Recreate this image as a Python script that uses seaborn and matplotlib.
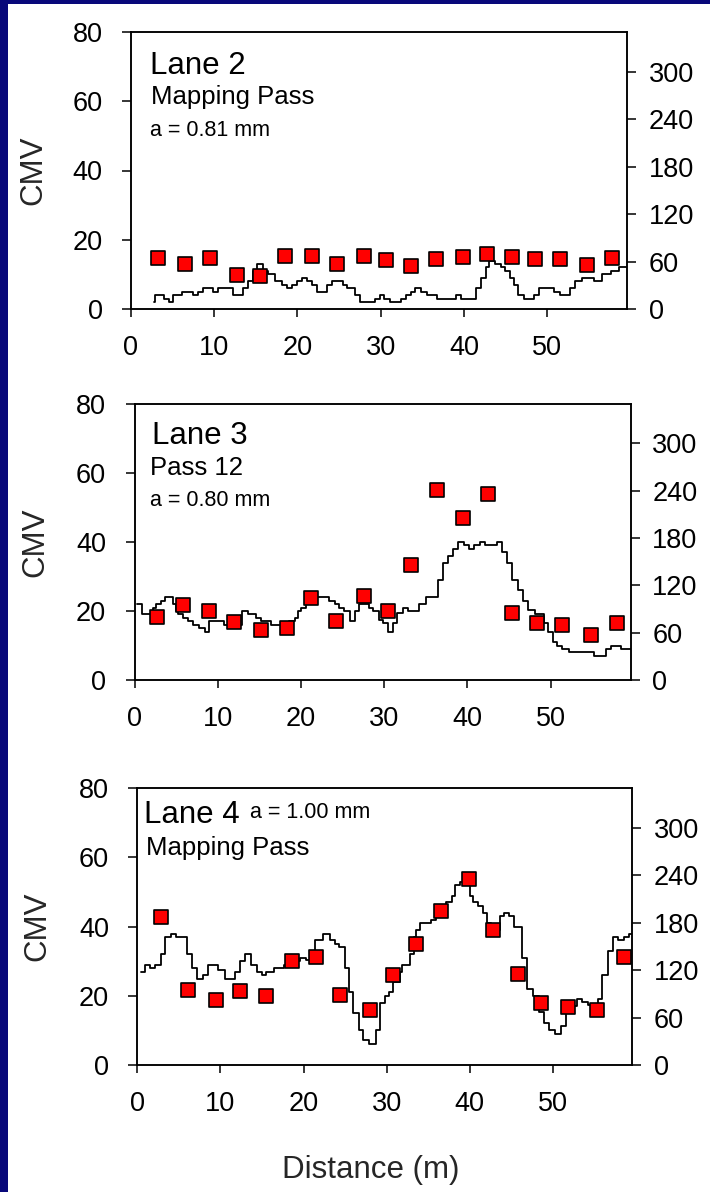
import matplotlib
matplotlib.use("Agg")
import matplotlib.pyplot as plt
import numpy as np
import pandas as pd
import seaborn as sns
from matplotlib.patches import Rectangle

# ---------------- data ----------------
# Roller CMV (left axis), step profile: distance where each step starts and its value
lane2_dist = [2.8, 2.9, 4.0, 4.6, 5.1, 6.1, 7.5, 8.0, 8.6, 9.8, 10.4, 12.3, 13.5, 14.1,
              14.6, 15.1, 15.9, 16.5, 17.3, 18.1, 18.7, 19.3, 19.9, 20.5, 21.1, 21.7,
              22.3, 23.5, 24.1, 25.5, 25.9, 26.9, 27.5, 29.3, 29.9, 30.4, 31.1, 32.5,
              33.0, 33.6, 34.1, 34.9, 35.6, 36.8, 39.0, 39.7, 41.4, 42.0, 42.6, 43.0,
              43.7, 44.4, 45.0, 45.6, 46.0, 46.5, 47.2, 48.4, 49.0, 50.8, 51.5, 52.8,
              53.4, 54.2, 55.6, 56.6, 57.7, 58.6, 59.6]
lane2_cmv = [2, 4, 3, 2, 4, 5, 4, 5, 6, 5, 6, 4, 6, 8,
             11, 13, 11, 10, 8, 7, 6, 7, 8, 9, 8, 7,
             5, 7, 8, 7, 6, 4, 2, 3, 4, 3, 2, 3,
             4, 5, 6, 5, 4, 3, 4, 3, 6, 9, 12, 14,
             13, 12, 11, 9, 7, 4, 3, 4, 6, 5, 4, 6,
             8, 9, 8, 10, 11, 12, 12]

lane3_dist = [0.25, 0.85, 2.2, 2.6, 3.2, 3.7, 4.6, 5.0, 5.2, 5.8, 6.4, 7.0, 7.7, 8.4,
              9.0, 10.8, 12.9, 13.6, 14.6, 15.2, 16.4, 18.6, 19.3, 19.6, 20.0, 20.6,
              21.2, 23.3, 24.1, 24.6, 25.2, 25.9, 26.5, 27.0, 28.2, 28.7, 29.4, 29.8,
              30.4, 31.0, 31.5, 32.3, 32.8, 34.2, 35.0, 36.4, 37.1, 37.7, 38.3, 38.9,
              39.6, 40.2, 40.8, 41.5, 42.1, 43.6, 44.2, 44.8, 45.4, 46.1, 46.7, 47.3,
              48.1, 49.2, 49.7, 50.3, 50.8, 51.4, 52.2, 55.2, 56.6, 57.2, 58.4, 59.6]
lane3_cmv = [22, 19, 21, 22, 23, 24, 22, 20, 19, 18, 17, 16, 15, 14,
             17, 16, 20, 19, 18, 17, 16, 17, 18, 20, 21, 22,
             24, 23, 22, 21, 20, 17, 20, 22, 21, 20, 17.5, 16.5,
             14, 16.5, 19.3, 21, 20, 22, 24, 29, 34, 36, 38, 40,
             39, 38, 39, 40, 39, 40, 37, 34, 29, 26, 23, 20.3,
             19.2, 16.6, 14, 11, 10, 9, 8, 7, 9, 10, 9, 9]

lane4_dist = [0.4, 0.9, 1.5, 2.1, 2.8, 3.3, 4.0, 4.7, 6.0, 6.6, 7.2, 7.85, 8.5, 9.7,
              10.5, 11.8, 12.3, 12.9, 13.7, 14.35, 14.95, 15.5, 16.4, 17.6, 18.6,
              19.6, 20.3, 20.8, 21.4, 22.4, 23.2, 23.8, 24.3, 25.0, 25.5, 25.9, 26.7,
              27.2, 27.9, 28.7, 29.2, 29.8, 30.3, 30.8, 31.6, 31.9, 32.8, 33.3, 33.6,
              34.0, 35.4, 36.0, 36.6, 37.2, 37.9, 38.3, 38.9, 39.4, 40.0, 40.4, 41.0,
              41.6, 42.1, 42.6, 43.6, 44.2, 44.7, 45.4, 46.3, 46.9, 47.6, 48.4, 48.9,
              49.6, 50.3, 51.0, 51.6, 52.9, 53.5, 54.3, 55.4, 55.9, 56.7, 57.3, 57.9,
              58.6, 59.2, 59.6]
lane4_cmv = [27, 29, 28, 29, 32, 37, 38, 37, 32, 28, 25, 26, 29, 27.5,
             25, 27, 30, 32, 29, 27, 26, 27, 28, 29, 30,
             31, 30.5, 33, 36, 38, 36, 35, 34, 28, 21, 15, 10,
             7.2, 6, 10, 18, 20, 21, 24, 27, 29, 32, 37, 39,
             41, 42, 44, 46, 47, 49, 52, 53, 55, 49, 47, 46,
             44, 41, 39, 43, 44, 43, 40, 31, 22, 20, 15.4, 12,
             10, 9, 11.3, 17, 19, 18.3, 17.4, 19, 26, 33, 37, 36,
             37, 38, 38]

# Spot test values (right axis)
lane2_pt_dist = [3.3, 6.5, 9.5, 12.7, 15.5, 18.5, 21.7, 24.7, 28.0, 30.7, 33.6, 36.7,
                 39.9, 42.8, 45.8, 48.6, 51.6, 54.8, 57.8]
lane2_pt_val = [64, 57, 64, 43, 42, 67, 67, 57, 67, 62, 54, 63, 66, 69, 66, 63, 63, 56, 65]

lane3_pt_dist = [2.7, 5.85, 9.0, 12.0, 15.2, 18.3, 21.2, 24.2, 27.6, 30.5, 33.2, 36.3,
                 39.5, 42.5, 45.4, 48.3, 51.4, 54.9, 58.0]
lane3_pt_val = [80, 95, 87, 73, 63, 66, 104, 75, 107, 87, 146, 241, 206, 236, 85, 72, 70, 57, 72]

lane4_pt_dist = [2.9, 6.1, 9.5, 12.4, 15.5, 18.6, 21.5, 24.4, 28.0, 30.8, 33.5, 36.6,
                 39.9, 42.8, 45.8, 48.6, 51.8, 55.3, 58.6]
lane4_pt_val = [187, 95, 82, 94, 87, 131, 137, 88, 70, 114, 153, 195, 235, 171, 115, 78, 73, 69, 136]

left_ticks = [0, 20, 40, 60, 80]
right_ticks = [0, 60, 120, 180, 240, 300]
x_ticks = [0, 10, 20, 30, 40, 50]

# ---------------- style ----------------
sns.set_style("ticks")
plt.rcParams["font.family"] = ["Liberation Sans", "DejaVu Sans"]
plt.rcParams["axes.linewidth"] = 1.1

W, H = 710, 1192
fig = plt.figure(figsize=(W / 100, H / 100), dpi=100)
fig.patch.set_facecolor("white")

# navy slide border (left and top)
navy = "#08087a"
fig.patches.append(Rectangle((0, 0), 8 / W, 1, transform=fig.transFigure,
                             facecolor=navy, edgecolor="none", zorder=0))
fig.patches.append(Rectangle((0, 1 - 4 / H), 1, 4 / H, transform=fig.transFigure,
                             facecolor=navy, edgecolor="none", zorder=0))


def px_rect(left, top, right, bottom):
    return [left / W, 1 - bottom / H, (right - left) / W, (bottom - top) / H]


TICK_FS = 19.5
panels = [
    dict(rect=px_rect(131, 32, 627, 309), dist=lane2_dist, cmv=lane2_cmv,
         px=lane2_pt_dist, pv=lane2_pt_val, label_x=33,
         texts=[("Lane 2", 0.038, 0.848, 22.5), ("Mapping Pass", 0.040, 0.740, 18.5),
                ("a = 0.81 mm", 0.038, 0.625, 15.5)]),
    dict(rect=px_rect(134.6, 404, 630.6, 680), dist=lane3_dist, cmv=lane3_cmv,
         px=lane3_pt_dist, pv=lane3_pt_val, label_x=35,
         texts=[("Lane 3", 0.035, 0.855, 22.5), ("Pass 12", 0.031, 0.743, 18.5),
                ("a = 0.80 mm", 0.031, 0.630, 15.5)]),
    dict(rect=px_rect(137.4, 788.3, 632.4, 1065), dist=lane4_dist, cmv=lane4_cmv,
         px=lane4_pt_dist, pv=lane4_pt_val, label_x=37,
         texts=[("Lane 4", 0.013, 0.875, 22.5), ("a = 1.00 mm", 0.227, 0.893, 15.5),
                ("Mapping Pass", 0.017, 0.759, 18.5)]),
]

for i, p in enumerate(panels):
    assert len(p["dist"]) == len(p["cmv"])
    ax = fig.add_axes(p["rect"])
    line_df = pd.DataFrame({"Distance": p["dist"], "CMV": p["cmv"]})
    sns.lineplot(data=line_df, x="Distance", y="CMV", ax=ax, color="black",
                 linewidth=1.3, drawstyle="steps-post", estimator=None, sort=False)
    ax.set_xlim(0, 59.6)
    ax.set_ylim(0, 80)
    ax.set_yticks(left_ticks)
    ax.set_xticks(x_ticks)
    ax.tick_params(axis="y", direction="out", length=6.5, width=1.1, pad=14,
                   labelsize=TICK_FS, colors="black")
    ax.tick_params(axis="x", direction="out", length=6, width=1.1, pad=13,
                   labelsize=TICK_FS, colors="black")
    for s in ax.spines.values():
        s.set_color("black")
        s.set_linewidth(1.1)

    ax2 = ax.twinx()
    pt_df = pd.DataFrame({"Distance": p["px"], "Value": p["pv"]})
    sns.scatterplot(data=pt_df, x="Distance", y="Value", ax=ax2, marker="s", s=105,
                    color="#ff0000", edgecolor="black", linewidth=1.2, zorder=5)
    ax2.set_ylim(0, 350)
    ax2.set_yticks(right_ticks)
    ax2.tick_params(axis="y", direction="out", length=6.5, width=1.1, pad=9,
                    labelsize=TICK_FS, colors="black")
    ax2.set_ylabel("")
    ax2.set_xlim(0, 59.6)
    for s in ax2.spines.values():
        s.set_color("black")
        s.set_linewidth(1.1)

    ax.set_ylabel("CMV", fontsize=22.5)
    ax.yaxis.label.set_va("center")
    ax.yaxis.set_label_coords((p["label_x"] - p["rect"][0] * W) / (p["rect"][2] * W), 0.5)
    if i == 2:
        ax.set_xlabel("Distance (m)", fontsize=22.5)
        ax.xaxis.label.set_va("center")
        ax.xaxis.set_label_coords((371 - 137.4) / 495, (1065 - 1170) / 276.7)
    else:
        ax.set_xlabel("")

    for txt, tx, ty, fs in p["texts"]:
        ax.text(tx, ty, txt, transform=ax.transAxes, fontsize=fs, ha="left",
                va="baseline", color="black", zorder=6)

fig.savefig("out.png", dpi=100, facecolor="white")
